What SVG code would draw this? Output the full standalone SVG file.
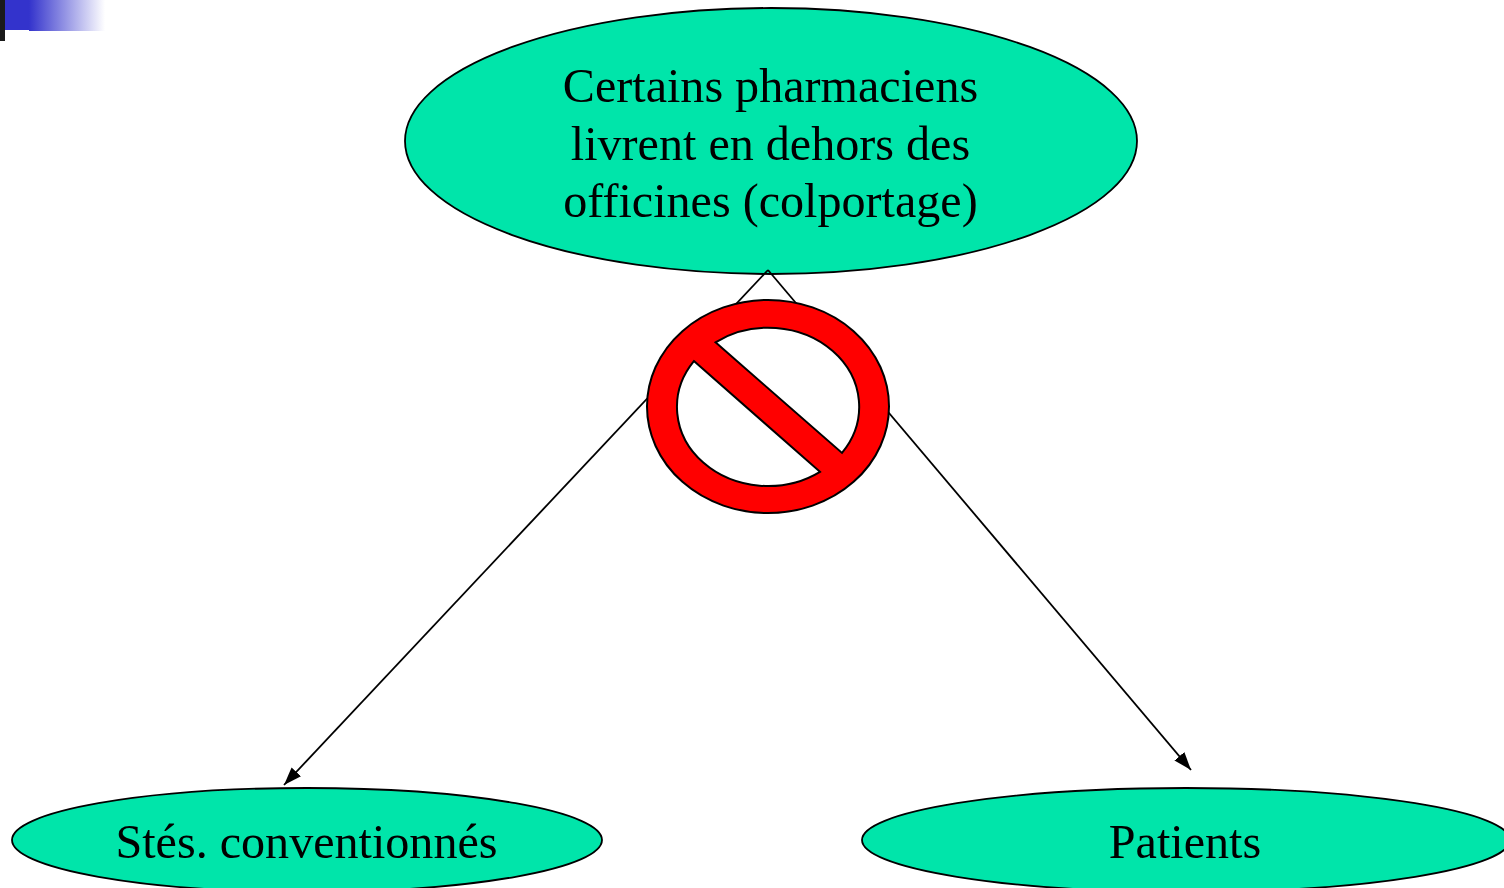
<svg xmlns="http://www.w3.org/2000/svg" width="1504" height="888" viewBox="0 0 1504 888">
<style>
.n{fill:#00E5AA;stroke:#000;stroke-width:1.8}
.t{font-family:"Liberation Serif","Times New Roman",serif;font-size:48.1px;fill:#000;text-anchor:middle}
.c{stroke:#000;stroke-width:1.8;fill:none}
.r{fill:#FF0000;stroke:#000;stroke-width:2;fill-rule:evenodd}
</style>
<defs>
<linearGradient id="g" x1="0" x2="1" y1="0" y2="0"><stop offset="0" stop-color="#3333CC"/><stop offset="1" stop-color="#fff"/></linearGradient>
<marker id="a" markerUnits="userSpaceOnUse" markerWidth="20" markerHeight="16" refX="18" refY="6.5" orient="auto"><path d="M0 0L18 6.5L0 13Z" fill="#000"/></marker>
</defs>
<rect width="1504" height="888" fill="#fff"/>
<g id="corner">
<rect x="29" y="0" width="76" height="31" fill="url(#g)"/>
<rect x="5" y="0" width="24" height="30" fill="#3333CC"/>
<rect x="0" y="0" width="5" height="41" fill="#1a1a1a"/>
</g>
<g id="node-top">
<ellipse class="n" cx="771" cy="141" rx="366" ry="133"/>
<text class="t" x="770.500" y="101.500">Certains pharmaciens</text>
<text class="t" x="770.500" y="159.500">livrent en dehors des</text>
<text class="t" x="770.500" y="216.500">officines (colportage)</text>
</g>
<g id="node-left">
<ellipse class="n" cx="307" cy="840" rx="295" ry="52"/>
<text class="t" x="306.500" y="857.500">Stés. conventionnés</text>
</g>
<g id="node-right">
<ellipse class="n" cx="1186" cy="840" rx="324" ry="52"/>
<text class="t" x="1185" y="857.500">Patients</text>
</g>
<g id="connectors">
<path class="c" d="M768 270L284 785" marker-end="url(#a)"/>
<path class="c" d="M768 270L1191 770" marker-end="url(#a)"/>
</g>
<g id="no-sign">
<path class="r" d="M647 406.500A121 106.500 0 1 1 889 406.500A121 106.500 0 1 1 647 406.500ZM715.500 342.300L842 452.900A91 79 0 0 0 715.500 342.300ZM693.900 361.100L820 471.800A91 79 0 0 1 693.900 361.100Z"/>
</g>
</svg>
